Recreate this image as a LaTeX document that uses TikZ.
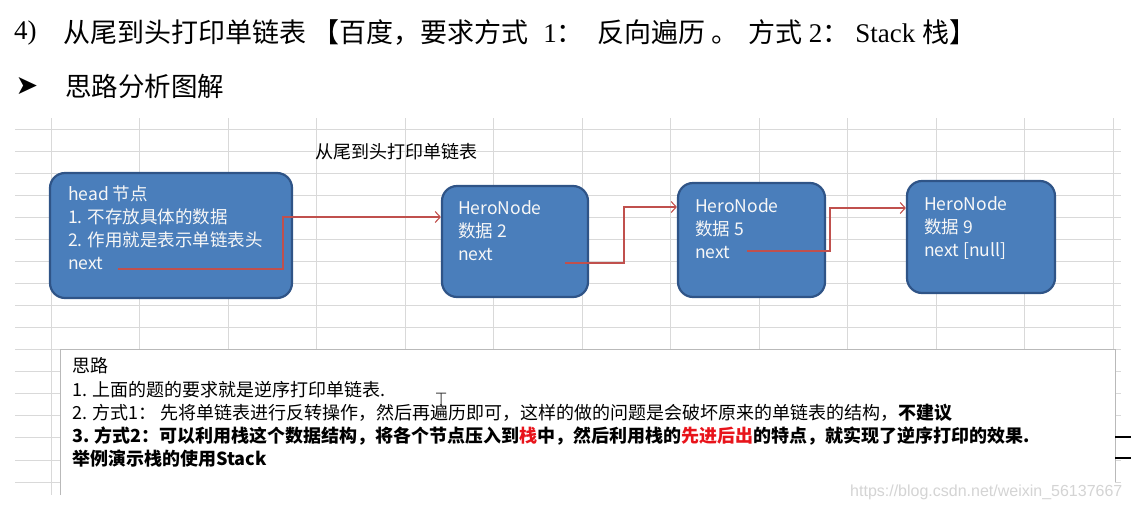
\documentclass[tikz,border=0pt]{standalone}
\usepackage{fontspec}
\setmainfont{Liberation Serif}
\newfontfamily\cjk{Noto Sans CJK SC}
\newfontfamily\flechafont{DejaVu Sans}
\newfontfamily\wmfont{Liberation Sans}
\usetikzlibrary{arrows.meta,positioning}
\definecolor{nodoazul}{HTML}{4A7EBB}
\definecolor{nodoborde}{HTML}{2F5487}
\definecolor{enlace}{HTML}{C0504D}
\definecolor{grilla}{HTML}{D9D9D9}
\definecolor{marca}{HTML}{D4D4D4}
\definecolor{rojo}{HTML}{E8141B}
\tikzset{
  caja/.style={draw=nodoborde,fill=nodoazul,line width=2.2pt,rounded corners=15pt,inner sep=0pt},
  textocaja/.style={anchor=north west,inner sep=0pt,align=left,text=white!94!gray,
    font=\cjk\fontsize{17.5}{23}\selectfont},
  enlacenext/.style={draw=enlace,line width=1.1pt,-{Straight Barb[length=5pt,width=11pt]}},
}
\begin{document}
\begin{tikzpicture}[x=1pt,y=-1pt]
\useasboundingbox (0,0) rectangle (1131,509);
    %Titulos
    \node[anchor=west,inner sep=0pt,font=\fontsize{27}{30}\selectfont] (num) at (14,33) {4)};
    \node[anchor=west,inner sep=0pt,font=\fontsize{27}{30}\selectfont] (titulo) at (63,33)
        {{\cjk 从尾到头打印单链表 【百度，要求方式}\hspace{15pt}1{\cjk ：}\hspace{14pt}{\cjk 反向遍历 。\hspace{10pt}方式 }2{\cjk ：}\hspace{6pt}Stack {\cjk 栈】}};
    \node[inner sep=0pt,font=\flechafont\fontsize{27}{30}\selectfont] (vineta) at (27,86) {➤};
    \node[anchor=west,inner sep=0pt,font=\cjk\fontsize{26.5}{30}\selectfont] (analisis) at (65,86) {思路分析图解};

    %Grilla
    \foreach \k in {0,...,12}{
        \draw[grilla,line width=0.8pt] ({51+88.5*\k},118) -- ({51+88.5*\k},495);
    }
    \foreach \k in {0,...,16}{
        \draw[grilla,line width=0.8pt] (15,{129+22.06*\k}) -- (1121,{129+22.06*\k});
    }
    \node[anchor=west,inner sep=0pt,font=\cjk\fontsize{18}{20}\selectfont] (subtitulo) at (315,152) {从尾到头打印单链表};

    %Nodos
    \node[caja,minimum width=242pt,minimum height=125pt] (head) at (171,235.5) {};
    \node[caja,minimum width=146pt,minimum height=111pt] (n2) at (515,241.5) {};
    \node[caja,minimum width=147pt,minimum height=114pt] (n5) at (751.5,240) {};
    \node[caja,minimum width=148pt,minimum height=112pt] (n9) at (981,237) {};
    \node[textocaja] (headtxt) at ([shift={(19,12.5)}]head.north west)
        {\strut head 节点\\1. 不存放具体的数据\\2. 作用就是表示单链表头\\next};
    \node[textocaja] (n2txt) at ([shift={(17,13.5)}]n2.north west) {\strut HeroNode\\数据 2\\next};
    \node[textocaja] (n5txt) at ([shift={(18,14.5)}]n5.north west) {\strut HeroNode\\数据 5\\next};
    \node[textocaja] (n9txt) at ([shift={(18,14.5)}]n9.north west) {\strut HeroNode\\数据 9\\next [null]};

    %Enlaces next
    \coordinate (headnext) at (118,269);
    \coordinate (headgiro) at (283,217);
    \coordinate (n2next) at (565,263);
    \coordinate (n2giro) at (624,207);
    \coordinate (n5next) at (747,251);
    \coordinate (n5giro) at (830,208);
    \draw[enlacenext] (headnext) -| (headgiro) -- (headgiro -| n2.west);
    \draw[enlacenext] (n2next) -| (n2giro) -- (n2giro -| n5.west);
    \draw[enlacenext] (n5next) -| (n5giro) -- (n5giro -| n9.west);

    %Cuadro de texto
    \fill[white] (60,349) rectangle (1115,509);
    \draw[gray!55,line width=0.9pt] (60,495) -- (60,349) -- (1115,349) -- (1115,482);
    \draw[black,line width=2pt] (1115,437) -- (1131,437) (1115,458) -- (1131,458);
    \node[anchor=north west,inner sep=0pt,align=left,font=\cjk\fontsize{18}{23.2}\selectfont] (silu) at (72,356.5)
        {\strut 思路\\
         1. 上面的题的要求就是逆序打印单链表.\\
         2. 方式1： 先将单链表进行反转操作，然后再遍历即可，这样的做的问题是会破坏原来的单链表的结构，{\bfseries 不建议}\\
         {\bfseries 3. 方式2：可以利用栈这个数据结构，将各个节点压入到\textcolor{rojo}{栈}中，然后利用栈的\textcolor{rojo}{先进后出}的特点，就实现了逆序打印的效果.}\\
         {\bfseries 举例演示栈的使用Stack}};
    \draw[black!75,line width=1pt] (436,393) -- (446,393) (441,393) -- (441,406) -- (444,409);
    \node[anchor=west,inner sep=0pt,text=marca,font=\wmfont\fontsize{16}{18}\selectfont] (marcaagua) at (850,492)
        {https://blog.csdn.net/weixin\_56137667};
\end{tikzpicture}
\end{document}
